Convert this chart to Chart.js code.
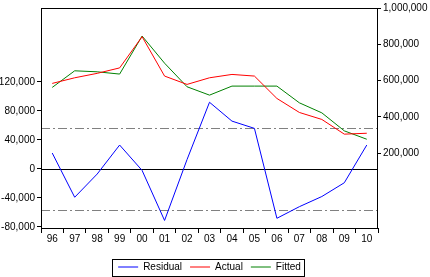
<!DOCTYPE html>
<html>
<head>
<meta charset="utf-8">
<script src="https://cdn.jsdelivr.net/npm/chart.js@4.4.1/dist/chart.umd.min.js"></script>
<style>
body{margin:0;background:#fff;}
canvas{display:block;}
</style>
</head>
<body>
<canvas id="chart" width="430" height="277"></canvas>
<script>
const years = ['96','97','98','99','00','01','02','03','04','05','06','07','08','09','10'];
const residual = [22000,-39000,-7000,33000,-2000,-71000,13000,92000,66000,56000,-68000,-52000,-38000,-19000,33000];
const actual = [584500,615500,640000,670000,842000,625000,579000,615500,634000,625000,501700,424500,386000,305000,310000];
const fitted = [562500,654000,648500,636000,845500,696000,566000,520000,569700,569700,569700,477600,422400,323200,277000];
const residTicks = [-80000,-40000,0,40000,80000,120000];
const levelTicks = [200000,400000,600000,800000,1000000];
const bandLines = [57000,-57000];

const fontFam = '"Liberation Sans", Arial, sans-serif';
const tickFont = {family:fontFam, size:10};

// zero line, +/- 1 s.e. band, plot frame and legend frame
const frames = {
  id:'frames',
  beforeDatasetsDraw(chart){
    const ctx = chart.ctx, a = chart.chartArea, y = chart.scales.y;
    ctx.save();
    ctx.lineWidth = 1;
    ctx.strokeStyle = '#000';
    let p = Math.round(y.getPixelForValue(0)) + 0.5;
    ctx.beginPath(); ctx.moveTo(a.left, p); ctx.lineTo(a.right, p); ctx.stroke();
    ctx.strokeStyle = '#808080';
    ctx.setLineDash([9,3,2,3]);
    bandLines.forEach(v => {
      let q = Math.round(y.getPixelForValue(v)) + 0.5;
      ctx.beginPath(); ctx.moveTo(a.left, q); ctx.lineTo(a.right, q); ctx.stroke();
    });
    ctx.restore();
  },
  afterDraw(chart){
    const ctx = chart.ctx, a = chart.chartArea;
    ctx.save();
    ctx.lineWidth = 1;
    ctx.strokeStyle = '#000';
    ctx.strokeRect(a.left + 0.5, a.top + 0.5, a.right - a.left - 1, a.bottom - a.top);
    const h = chart.legend.legendHitBoxes;
    if (h && h.length) {
      const last = h[h.length - 1];
      const x0 = Math.round(h[0].left - 6) + 0.5;
      const x1 = Math.round(last.left + last.width + 3) + 0.5;
      const cy = h[0].top + h[0].height / 2;
      const y0 = Math.round(cy - 8.5) + 0.5;
      ctx.strokeRect(x0, y0, x1 - x0, 17);
    }
    ctx.restore();
  }
};

new Chart(document.getElementById('chart'), {
  type:'line',
  data:{
    labels:years,
    datasets:[
      {label:'Residual', data:residual, yAxisID:'y', borderColor:'#0000ff', backgroundColor:'#0000ff', borderWidth:1, pointRadius:0, tension:0},
      {label:'Actual', data:actual, yAxisID:'y1', borderColor:'#ff0000', backgroundColor:'#ff0000', borderWidth:1, pointRadius:0, tension:0},
      {label:'Fitted', data:fitted, yAxisID:'y1', borderColor:'#008000', backgroundColor:'#008000', borderWidth:1, pointRadius:0, tension:0}
    ]
  },
  options:{
    responsive:false,
    animation:false,
    devicePixelRatio:1,
    layout:{padding:{top:8, left:0, right:0, bottom:0}},
    plugins:{
      legend:{
        position:'bottom',
        fullSize:false,
        maxHeight:23,
        labels:{
          font:{family:fontFam, size:10},
          color:'#000',
          usePointStyle:true,
          pointStyle:'line',
          pointStyleWidth:20,
          padding:8
        }
      },
      tooltip:{enabled:false}
    },
    scales:{
      x:{
        offset:true,
        grid:{offset:true, drawOnChartArea:false, drawTicks:true, tickLength:5, color:'#000'},
        border:{display:false},
        ticks:{font:tickFont, color:'#000', padding:0, maxRotation:0, autoSkip:false},
        afterFit(s){ s.height = 26; }
      },
      y:{
        position:'left',
        min:-81400,
        max:222000,
        grid:{drawOnChartArea:false, tickLength:4, color:'#000'},
        border:{display:false},
        ticks:{font:tickFont, color:'#000', padding:2, callback:v => v.toLocaleString('en-US')},
        afterBuildTicks(s){ s.ticks = residTicks.map(v => ({value:v})); },
        afterFit(s){ s.width = 41; }
      },
      y1:{
        position:'right',
        min:-212000,
        max:1000000,
        grid:{drawOnChartArea:false, tickLength:3, color:'#000'},
        border:{display:false},
        ticks:{font:tickFont, color:'#000', padding:2, callback:v => v.toLocaleString('en-US')},
        afterBuildTicks(s){ s.ticks = levelTicks.map(v => ({value:v})); },
        afterFit(s){ s.width = 52; }
      }
    }
  },
  plugins:[frames]
});
</script>
</body>
</html>
